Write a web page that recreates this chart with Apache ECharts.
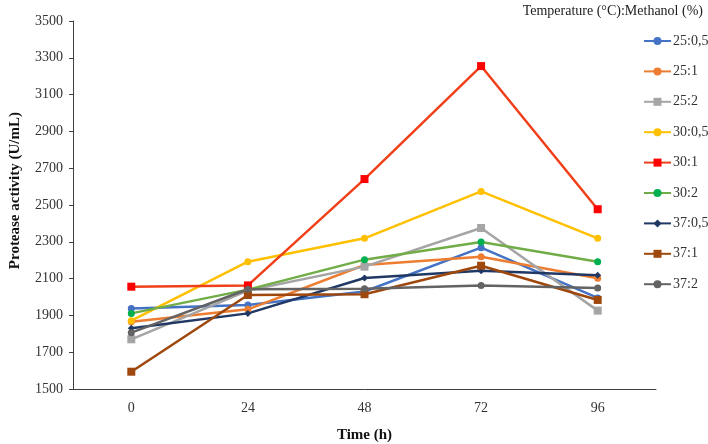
<!DOCTYPE html>
<html><head><meta charset="utf-8">
<script src="https://cdn.jsdelivr.net/npm/echarts@6/dist/echarts.min.js"></script>
<style>html,body{margin:0;padding:0;background:#fff}#c{width:708px;height:444px}</style>
</head><body><div id="c"></div>
<script>
const categories = ['0', '24', '48', '72', '96'];
const seriesNames = ['25:0,5', '25:1', '25:2', '30:0,5', '30:1', '30:2', '37:0,5', '37:1', '37:2'];
const s25_05 = [1938, 1957, 2030, 2268, 1995];
const s25_1  = [1866, 1933, 2174, 2219, 2102];
const s25_2  = [1770, 2035, 2165, 2375, 1926];
const s30_05 = [1871, 2192, 2319, 2574, 2319];
const s30_1  = [2056, 2063, 2641, 3255, 2477];
const s30_2  = [1911, 2040, 2203, 2299, 2192];
const s37_05 = [1830, 1911, 2103, 2143, 2118];
const s37_1  = [1594, 2011, 2015, 2170, 1984];
const s37_2  = [1806, 2042, 2045, 2063, 2049];
const yTicks = [1500, 1700, 1900, 2100, 2300, 2500, 2700, 2900, 3100, 3300, 3500];

const values = [s25_05, s25_1, s25_2, s30_05, s30_1, s30_2, s37_05, s37_1, s37_2];
const lineColors = ['#4472C4', '#ED7D31', '#A5A5A5', '#FFC000', '#F0401A', '#70AD47', '#203864', '#9E480E', '#636363'];
const markColors = ['#4472C4', '#ED7D31', '#A5A5A5', '#FFC000', '#FF0000', '#00B050', '#203864', '#9E480E', '#636363'];
const symbols = ['circle', 'circle', 'rect', 'circle', 'rect', 'circle', 'diamond', 'rect', 'circle'];
const symSizes = [7, 7, 8, 7, 8, 7, 7, 8, 7];

const font = '"Liberation Serif", "Times New Roman", serif';
const chart = echarts.init(document.getElementById('c'), null, {renderer: 'canvas'});
chart.setOption({
  animation: false,
  backgroundColor: '#fff',
  textStyle: {fontFamily: font},
  title: {
    text: 'Temperature (°C):Methanol (%)',
    right: 0, top: -1,
    textStyle: {fontFamily: font, fontSize: 14, fontWeight: 'normal', color: '#222'}
  },
  legend: {
    orient: 'vertical',
    left: 638, top: 29,
    itemWidth: 27, itemHeight: 10, itemGap: 16.4,
    textStyle: {fontFamily: font, fontSize: 14, lineHeight: 14, color: '#333', padding: [0, 0, 0, -3]},
    data: seriesNames
  },
  grid: {left: 73, right: 52, top: 21, bottom: 55, containLabel: false, outerBoundsMode: 'none'},
  xAxis: {
    type: 'category',
    data: categories,
    boundaryGap: true,
    name: 'Time (h)',
    nameLocation: 'middle',
    nameGap: 39,
    nameTextStyle: {fontFamily: font, fontSize: 15, fontWeight: 'bold', color: '#111'},
    axisLine: {lineStyle: {color: '#404040', width: 1}},
    axisTick: {alignWithLabel: true, length: 5, lineStyle: {color: '#404040'}},
    axisLabel: {fontFamily: font, fontSize: 14, color: '#333', margin: 12}
  },
  yAxis: {
    type: 'value',
    min: 1500, max: 3500, interval: 200,
    axisLine: {show: true, lineStyle: {color: '#404040', width: 1}},
    axisTick: {show: true, length: 4, lineStyle: {color: '#404040'}},
    splitLine: {show: false},
    axisLabel: {fontFamily: font, fontSize: 14, color: '#333', margin: 10,
      formatter: v => yTicks.includes(v) ? String(v) : ''}
  },
  graphic: [{
    type: 'text',
    left: 8, top: 112,
    rotation: Math.PI / 2,
    style: {text: 'Protease activity (U/mL)', font: 'bold 15px ' + font, fill: '#111'}
  }],
  series: seriesNames.map((n, i) => ({
    name: n,
    type: 'line',
    data: values[i],
    symbol: symbols[i],
    symbolSize: symSizes[i],
    showAllSymbol: true,
    lineStyle: {color: lineColors[i], width: 2.5},
    itemStyle: {color: markColors[i]},
    emphasis: {disabled: true}
  }))
});
</script></body></html>
